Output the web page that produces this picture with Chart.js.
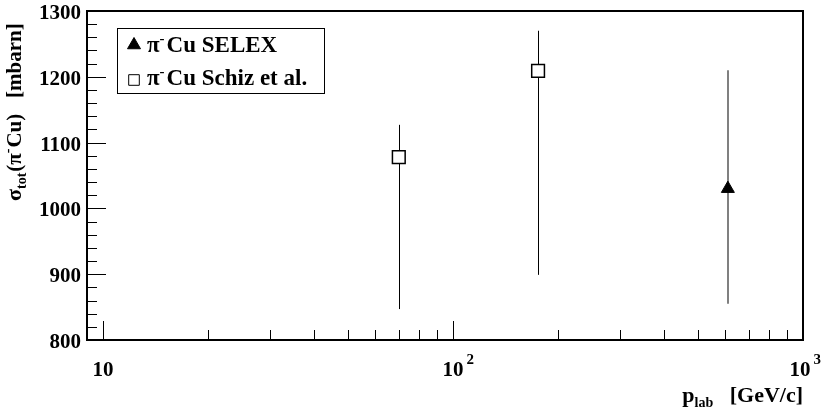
<!DOCTYPE html>
<html>
<head>
<meta charset="utf-8">
<title>pi- Cu total cross section</title>
<script src="https://cdn.jsdelivr.net/npm/chart.js@4/dist/chart.umd.min.js"></script>
<style>
  html, body { margin: 0; padding: 0; background: #fff; }
  canvas { display: block; }
</style>
</head>
<body>
<canvas id="xsecChart" width="828" height="416"></canvas>
<script>
// pi- Cu SELEX point
const selexMomentum = [610];
const selexSigma = [1030];
const selexErrLow = [855];
const selexErrHigh = [1210];

// pi- Cu Schiz et al. points
const schizMomentum = [70, 175];
const schizSigma = [1078, 1209];
const schizErrLow = [847, 899];
const schizErrHigh = [1127, 1270];

// axis ticks
const yTickValues = [800, 900, 1000, 1100, 1200, 1300];
const yMinorPerMajor = 5;
const xTickValues = [10, 100, 1000];
const xTickBase = ['10', '10', '10'];
const xTickExp = ['', '2', '3'];

const FONT = '"Liberation Serif", "Times New Roman", serif';

function toPoints(xs, ys, lo, hi) {
  return xs.map((x, i) => ({ x: x, y: ys[i], lo: lo[i], hi: hi[i] }));
}

// vertical error bars, drawn under the markers
const errorBars = {
  id: 'errorBars',
  beforeDatasetsDraw(chart) {
    const ctx = chart.ctx;
    const xs = chart.scales.x, ys = chart.scales.y;
    chart.data.datasets.forEach(ds => {
      ctx.save();
      ctx.strokeStyle = ds.errColor;
      ctx.lineWidth = ds.errWidth;
      ds.data.forEach(p => {
        let px = xs.getPixelForValue(p.x);
        px = ds.errWidth % 2 ? Math.round(px) + 0.5 : Math.round(px);
        ctx.beginPath();
        ctx.moveTo(px, ys.getPixelForValue(p.hi));
        ctx.lineTo(px, ys.getPixelForValue(p.lo));
        ctx.stroke();
      });
      ctx.restore();
    });
  }
};

// draws runs of [text, size, dy, gap] left to right
function drawRuns(ctx, runs, x, y) {
  runs.forEach(r => {
    ctx.font = 'bold ' + r[1] + 'px ' + FONT;
    ctx.fillText(r[0], x, y + (r[2] || 0));
    x += ctx.measureText(r[0]).width + (r[3] || 0);
  });
  return x;
}
function runsWidth(ctx, runs) {
  let w = 0;
  runs.forEach(r => {
    ctx.font = 'bold ' + r[1] + 'px ' + FONT;
    w += ctx.measureText(r[0]).width + (r[3] || 0);
  });
  return w;
}

// frame, inward ticks, labels and legend
const frameAxes = {
  id: 'frameAxes',
  afterDraw(chart) {
    const ctx = chart.ctx;
    const a = chart.chartArea;
    const xs = chart.scales.x, ys = chart.scales.y;
    ctx.save();
    ctx.fillStyle = '#000';
    ctx.strokeStyle = '#000';

    // frame
    ctx.lineWidth = 2;
    ctx.strokeRect(a.left, a.top, a.right - a.left, a.bottom - a.top);

    // y ticks: majors plus minors between them
    const yStep = (yTickValues[1] - yTickValues[0]) / yMinorPerMajor;
    for (let i = 0; i < yTickValues.length; i++) {
      for (let k = 0; k < yMinorPerMajor; k++) {
        if (i === yTickValues.length - 1 && k > 0) break;
        const v = yTickValues[i] + k * yStep;
        const py = Math.round(ys.getPixelForValue(v));
        ctx.fillRect(a.left, py, k === 0 ? 19 : 10, 1);
      }
    }
    // x ticks, log decades
    for (let d = 0; d < xTickValues.length - 1; d++) {
      for (let k = 1; k < 10; k++) {
        const v = xTickValues[d] * k;
        if (v < xs.min) continue;
        const px = Math.round(xs.getPixelForValue(v));
        const len = k === 1 ? 19 : 10;
        ctx.fillRect(px, a.bottom - len, 1, len);
      }
    }

    // y tick labels
    ctx.font = 'bold 21px ' + FONT;
    ctx.textAlign = 'right';
    ctx.textBaseline = 'alphabetic';
    yTickValues.forEach(v => {
      ctx.fillText(String(v), 81, ys.getPixelForValue(v) + 8);
    });

    // x tick labels with exponents
    ctx.textAlign = 'left';
    xTickValues.forEach((v, i) => {
      const px = xs.getPixelForValue(v);
      ctx.font = 'bold 21px ' + FONT;
      const w = ctx.measureText(xTickBase[i]).width;
      const left = px - w / 2 - (i === xTickValues.length - 1 ? 3 : 0);
      ctx.fillText(xTickBase[i], left, 376);
      if (xTickExp[i]) {
        ctx.font = 'bold 15px ' + FONT;
        ctx.fillText(xTickExp[i], left + w + 3, 364);
      }
    });

    // x title, right-aligned with the frame
    const xTitle = [['p', 22], ['lab', 14, 5, 0], ['   [GeV/c]', 22]];
    drawRuns(ctx, xTitle, a.right - runsWidth(ctx, xTitle), 402);

    // y title, rotated
    ctx.save();
    ctx.translate(21, 201);
    ctx.rotate(-Math.PI / 2);
    drawRuns(ctx, [
      ['σ', 22], ['tot', 14, 5, 1], ['(π', 21], ['-', 14, -9, 1], ['Cu)', 21], ['   [mbarn]', 21]
    ], 0, 0);
    ctx.restore();

    // legend
    const lg = { left: 117, top: 28, right: 324, bottom: 93 };
    ctx.lineWidth = 1;
    ctx.strokeRect(lg.left + 0.5, lg.top + 0.5, lg.right - lg.left, lg.bottom - lg.top);
    const rows = [
      { ds: chart.data.datasets[0], y: 45, base: 52, radius: 7.5 },
      { ds: chart.data.datasets[1], y: 80, base: 85, radius: 7.5 }
    ];
    rows.forEach(r => {
      ctx.save();
      ctx.fillStyle = r.ds.backgroundColor;
      ctx.strokeStyle = r.ds.borderColor;
      ctx.lineWidth = 1;
      Chart.helpers.drawPoint(ctx, { pointStyle: r.ds.pointStyle, radius: r.radius, borderWidth: 1, rotation: 0 }, 134, r.y);
      ctx.restore();
      ctx.fillStyle = '#000';
      const name = r.ds.label.split('|');
      drawRuns(ctx, [['π', 23], ['-', 15, -9, 2], [name[1], 23]], 147, r.base);
    });

    ctx.restore();
  }
};

new Chart(document.getElementById('xsecChart'), {
  type: 'scatter',
  data: {
    datasets: [
      {
        label: 'π-|Cu SELEX',
        data: toPoints(selexMomentum, selexSigma, selexErrLow, selexErrHigh),
        pointStyle: 'triangle',
        pointRadius: 7.5,
        backgroundColor: '#000',
        borderColor: '#000',
        borderWidth: 1,
        errColor: '#808080',
        errWidth: 2
      },
      {
        label: 'π-|Cu Schiz et al.',
        data: toPoints(schizMomentum, schizSigma, schizErrLow, schizErrHigh),
        pointStyle: 'rect',
        pointRadius: 9,
        backgroundColor: '#fff',
        borderColor: '#000',
        borderWidth: 1.5,
        errColor: '#000',
        errWidth: 1
      }
    ]
  },
  options: {
    responsive: false,
    animation: false,
    layout: { padding: { left: 87, top: 11, right: 25, bottom: 76 } },
    scales: {
      x: { type: 'logarithmic', min: 9, max: 1000, display: false },
      y: { type: 'linear', min: 800, max: 1300, display: false }
    },
    plugins: {
      legend: { display: false },
      tooltip: { enabled: false }
    }
  },
  plugins: [errorBars, frameAxes]
});
</script>
</body>
</html>
